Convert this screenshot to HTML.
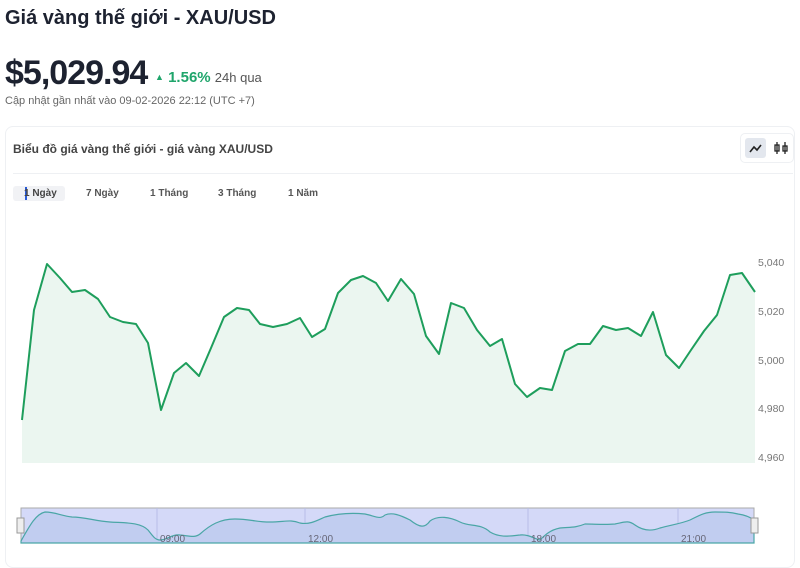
<!DOCTYPE html>
<html><head><meta charset="utf-8"><style>
body{margin:0;width:800px;height:556px;background:#fff;font-family:"Liberation Sans",sans-serif;position:relative;overflow:hidden;color:#1d2230}
.a{position:absolute;white-space:nowrap}
</style></head><body>
<div class="a" style="left:5px;top:7px;font-size:20px;font-weight:bold;color:#1d2230">Giá vàng thế giới - XAU/USD</div>
<div class="a" style="left:5px;top:54px;font-size:34px;font-weight:bold;letter-spacing:-1px;color:#1d2230">$5,029.94</div>
<div class="a" style="left:155px;top:69px;font-size:15px;font-weight:bold;color:#1fa56b"><span style="font-size:9px;position:relative;top:-2px">▲</span> 1.56% <span style="font-size:13px;font-weight:normal;color:#555">24h qua</span></div>
<div class="a" style="left:5px;top:95px;font-size:11px;color:#666">Cập nhật gần nhất vào 09-02-2026 22:12 (UTC +7)</div>
<div class="a" style="left:5px;top:126px;width:788px;height:440px;border:1px solid #eef0f3;border-radius:8px"></div>
<div class="a" style="left:13px;top:142px;font-size:12px;font-weight:bold;color:#444">Biểu đồ giá vàng thế giới - giá vàng XAU/USD</div>
<div class="a" style="left:740px;top:133px;width:52px;height:28px;border:1px solid #eef0f3;border-radius:5px"></div>
<div class="a" style="left:745px;top:138px;width:21px;height:20px;background:#e3e7ee;border-radius:3px"></div>
<svg class="a" style="left:745px;top:138px" width="48" height="20"><path d="M5,14 L9,9 L12,12 L16,7" fill="none" stroke="#222" stroke-width="1.6"/><g stroke="#222" stroke-width="1.3" fill="none"><line x1="32" y1="4" x2="32" y2="16"/><rect x="30" y="7" width="4" height="6"/><line x1="40" y1="4" x2="40" y2="16"/><rect x="38" y="8" width="4" height="5"/></g></svg>
<div class="a" style="left:13px;top:173px;width:780px;height:1px;background:#eef0f3"></div>
<div class="a" style="left:13px;top:186px;width:52px;height:15px;background:#f1f2f5;border-radius:3px"></div>
<div class="a" style="left:25px;top:187px;width:2px;height:13px;background:#2a5bd7"></div>
<div class="a" style="left:24px;top:188px;font-size:10px;font-weight:bold;color:#444">1 Ngày</div>
<div class="a" style="left:86px;top:188px;font-size:10px;font-weight:bold;color:#555">7 Ngày</div>
<div class="a" style="left:150px;top:188px;font-size:10px;font-weight:bold;color:#555">1 Tháng</div>
<div class="a" style="left:218px;top:188px;font-size:10px;font-weight:bold;color:#555">3 Tháng</div>
<div class="a" style="left:288px;top:188px;font-size:10px;font-weight:bold;color:#555">1 Năm</div>
<svg class="a" style="left:0;top:0" width="800" height="556">
<polygon fill="#ebf6f0" points="22,463 22,420 34,310 47,264 60,278 72,292 85,290 98,299 110,317 123,322 136,324 148,343 161,410 174,373 186,363 199,376 211,348 224,317 237,308 249,310 260,324 273,327 287,324 300,318 312,337 325,329 338,293 351,280 363,276 376,283 388,301 401,279 414,294 426,336 439,354 451,303 464,308 477,330 490,346 502,339 515,384 527,397 540,388 552,390 565,351 578,344 590,344 603,326 616,330 628,328 641,336 653,312 666,355 679,368 691,350 704,331 717,315 730,275 742,273 755,292 755,463"/>
<polyline fill="none" stroke="#1e9e5c" stroke-width="2" stroke-linejoin="round" points="22,420 34,310 47,264 60,278 72,292 85,290 98,299 110,317 123,322 136,324 148,343 161,410 174,373 186,363 199,376 211,348 224,317 237,308 249,310 260,324 273,327 287,324 300,318 312,337 325,329 338,293 351,280 363,276 376,283 388,301 401,279 414,294 426,336 439,354 451,303 464,308 477,330 490,346 502,339 515,384 527,397 540,388 552,390 565,351 578,344 590,344 603,326 616,330 628,328 641,336 653,312 666,355 679,368 691,350 704,331 717,315 730,275 742,273 755,292"/>
<g font-size="10.5" fill="#777" font-family="Liberation Sans,sans-serif">
<text x="758" y="266">5,040</text><text x="758" y="315">5,020</text><text x="758" y="364">5,000</text><text x="758" y="412">4,980</text><text x="758" y="461">4,960</text>
</g>
<rect x="21" y="508" width="733" height="35" fill="#d4d9f8" stroke="#aaa" stroke-width="1"/>
<g stroke="#b7bde8"><line x1="157" y1="508" x2="157" y2="543"/><line x1="305" y1="508" x2="305" y2="543"/><line x1="528" y1="508" x2="528" y2="543"/><line x1="678" y1="508" x2="678" y2="543"/></g>
<path fill="#c1cdf0" stroke="#4aa6a6" stroke-width="1.2" d="M21,541 C30,525 36,514 45,512 C55,512 62,516 72,517 C85,517 95,521 110,522 C125,523 140,522 148,530 C152,535 155,540 160,540 C167,540 172,534 180,535 C190,536 195,538 200,534 C210,525 220,519 235,519 C250,519 255,522 270,522 C285,522 290,519 300,523 C310,525 318,520 325,517 C340,513 355,513 365,514 C375,516 380,520 385,515 C392,512 400,515 410,520 C420,528 425,528 430,521 C438,515 450,517 460,522 C470,527 480,523 490,532 C500,538 510,536 520,535 C528,534 535,539 540,540 C545,535 550,530 560,528 C570,527 575,528 585,524 C595,524 605,525 615,524 C625,522 628,520 635,525 C642,530 650,532 660,528 C670,525 680,524 690,520 C700,515 705,512 715,512 C725,512 730,512 738,514 C745,515 750,517 754,520 L754,543 L21,543 Z"/>
<g font-size="10" fill="#667" font-family="Liberation Sans,sans-serif"><text x="160" y="542">09:00</text><text x="308" y="542">12:00</text><text x="531" y="542">18:00</text><text x="681" y="542">21:00</text></g>
<rect x="17" y="518" width="7" height="15" fill="#eee" stroke="#999"/><rect x="751" y="518" width="7" height="15" fill="#eee" stroke="#999"/>
</svg>
</body></html>
